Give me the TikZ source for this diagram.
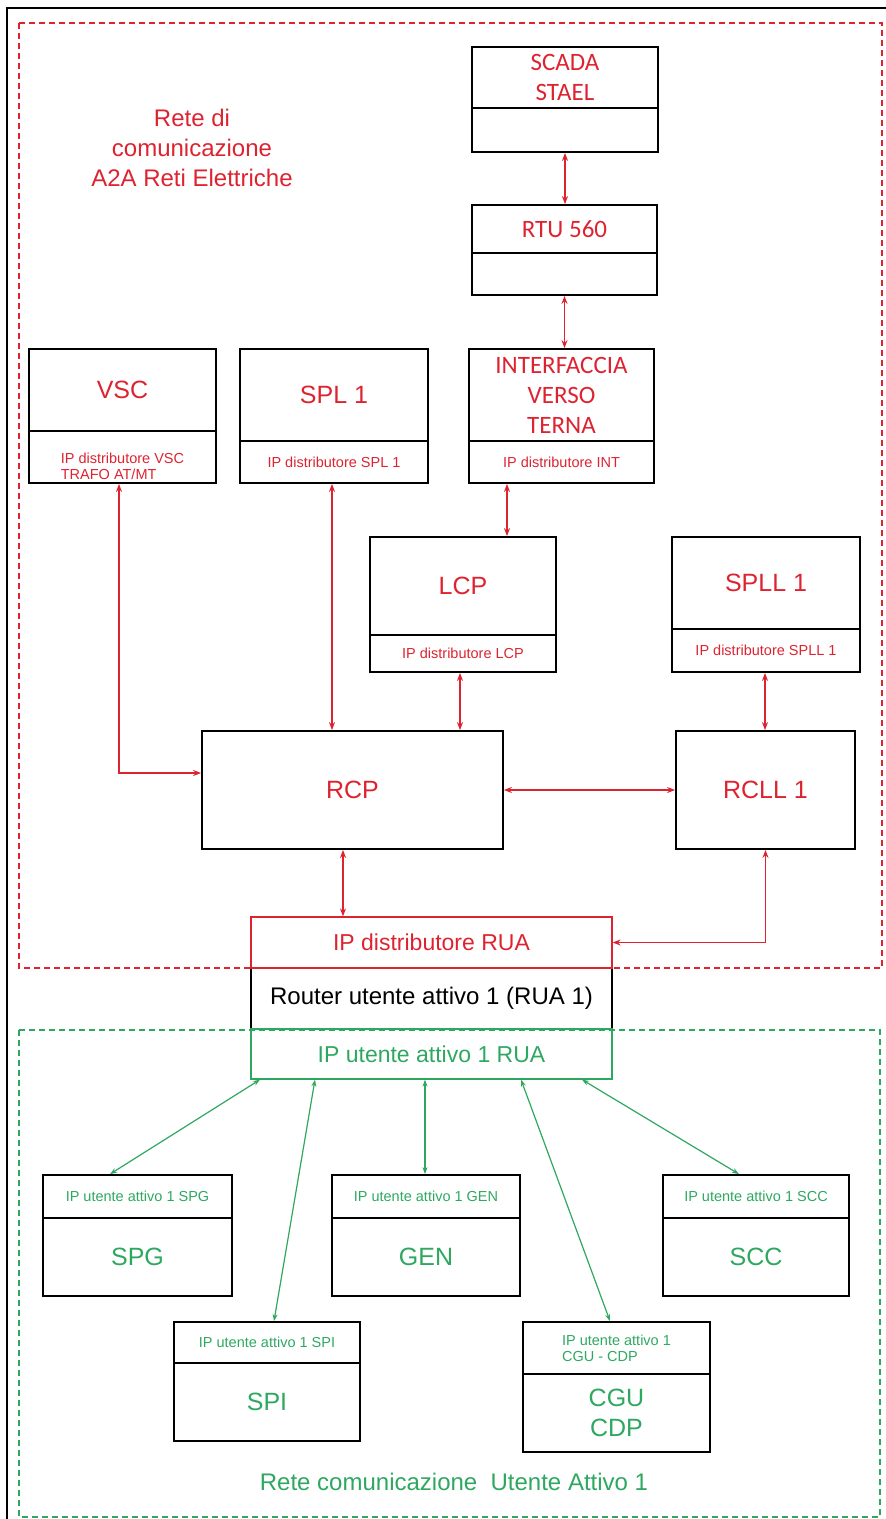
\documentclass[tikz,border=0pt]{standalone}
\usepackage{fontspec}
\setmainfont{Liberation Sans}
\newfontfamily\calfont{Carlito}
\usetikzlibrary{arrows.meta}
\definecolor{netred}{RGB}{222,35,48}
\definecolor{netgreen}{RGB}{46,168,96}
\tikzset{
  blk/.style={draw=black, line width=1.8pt, inner sep=0pt, align=center},
  bigtxt/.style={font=\fontsize{25}{30}\selectfont},
  calitxt/.style={font=\calfont\fontsize{25}{30}\selectfont},
  smalltxt/.style={font=\fontsize{14.5}{16}\selectfont},
  redlink/.style={draw=netred, line width=1.4pt, {Stealth[length=8pt,width=6pt]}-{Stealth[length=8pt,width=6pt]}},
  greenlink/.style={draw=netgreen, line width=1.2pt, {Stealth[length=7pt,width=5pt]}-{Stealth[length=7pt,width=5pt]}}
}
\begin{document}
\begin{tikzpicture}[x=1pt,y=-1pt]
  \useasboundingbox (0,0) rectangle (886,1519);
  \draw[line width=1.5pt] (7,1519) -- (7,8) -- (886,8);
  \draw[netred, line width=1.2pt, dash pattern=on 6pt off 4pt] (19,23) rectangle (882,968);
  \draw[netgreen, line width=1.2pt, dash pattern=on 6pt off 4pt] (19,1030) rectangle (880,1517);

  \node[bigtxt, text=netred, align=center, font=\fontsize{24}{30}\selectfont] (rednet) at (192,148) {Rete di\\comunicazione\\A2A Reti Elettriche};
  \node[bigtxt, text=netgreen, font=\fontsize{24}{30}\selectfont] (greennet) at (454,1482) {Rete comunicazione\ \ Utente Attivo 1};

  \node[blk, calitxt, text=netred, minimum width=186, minimum height=61] (scada) at (565,77.5) {SCADA\\STAEL};
  \node[blk, minimum width=186, minimum height=44] (scadaip) at (565,130) {};
  \node[blk, calitxt, text=netred, minimum width=185, minimum height=48] (rtu) at (564.5,229) {RTU 560};
  \node[blk, minimum width=185, minimum height=42] (rtuip) at (564.5,274) {};
  \node[blk, calitxt, text=netred, minimum width=185, minimum height=92] (int) at (561.5,395) {INTERFACCIA\\VERSO\\TERNA};
  \node[blk, smalltxt, text=netred, minimum width=185, minimum height=42] (intip) at (561.5,462) {IP distributore INT};
  \node[blk, bigtxt, text=netred, minimum width=187, minimum height=82] (vsc) at (122.5,390) {VSC};
  \node[blk, smalltxt, text=netred, align=left, minimum width=187, minimum height=52] (vscip) at (122.5,457) {\rule{0pt}{30pt}IP distributore VSC\\TRAFO AT/MT};
  \node[blk, bigtxt, text=netred, minimum width=188, minimum height=92] (spl) at (334,395) {SPL 1};
  \node[blk, smalltxt, text=netred, minimum width=188, minimum height=42] (splip) at (334,462) {IP distributore SPL 1};
  \node[blk, bigtxt, text=netred, minimum width=186, minimum height=98] (lcp) at (463,586) {LCP};
  \node[blk, smalltxt, text=netred, minimum width=186, minimum height=37] (lcpip) at (463,653.5) {IP distributore LCP};
  \node[blk, bigtxt, text=netred, minimum width=188, minimum height=92] (spll) at (766,583) {SPLL 1};
  \node[blk, smalltxt, text=netred, minimum width=188, minimum height=43] (spllip) at (766,650.5) {IP distributore SPLL 1};
  \node[blk, bigtxt, text=netred, minimum width=301, minimum height=118] (rcp) at (352.5,790) {RCP};
  \node[blk, bigtxt, text=netred, minimum width=179, minimum height=118] (rcll) at (765.5,790) {RCLL 1};

  \node[blk, line width=1.2pt, font=\fontsize{24}{30}\selectfont, minimum width=361, minimum height=61] (ruamid) at (431.5,998.5) {Router utente attivo 1 (RUA 1)};
  \node[blk, draw=netred, line width=1.2pt, font=\fontsize{23}{30}\selectfont, text=netred, minimum width=361, minimum height=51] (ruaip) at (431.5,942.5) {IP distributore RUA};
  \node[blk, draw=netgreen, line width=1.2pt, font=\fontsize{23}{30}\selectfont, text=netgreen, minimum width=361, minimum height=50] (ruauser) at (431.5,1054) {IP utente attivo 1 RUA};

  \node[blk, smalltxt, text=netgreen, minimum width=189, minimum height=43] (spgip) at (137.5,1196.5) {IP utente attivo 1 SPG};
  \node[blk, bigtxt, text=netgreen, minimum width=189, minimum height=78] (spg) at (137.5,1257) {SPG};
  \node[blk, smalltxt, text=netgreen, minimum width=188, minimum height=43] (genip) at (426,1196.5) {IP utente attivo 1 GEN};
  \node[blk, bigtxt, text=netgreen, minimum width=188, minimum height=78] (gen) at (426,1257) {GEN};
  \node[blk, smalltxt, text=netgreen, minimum width=186, minimum height=43] (sccip) at (756,1196.5) {IP utente attivo 1 SCC};
  \node[blk, bigtxt, text=netgreen, minimum width=186, minimum height=78] (scc) at (756,1257) {SCC};
  \node[blk, smalltxt, text=netgreen, minimum width=186, minimum height=41] (spiip) at (267,1342.5) {IP utente attivo 1 SPI};
  \node[blk, bigtxt, text=netgreen, minimum width=186, minimum height=78] (spi) at (267,1402) {SPI};
  \node[blk, smalltxt, text=netgreen, align=left, minimum width=187, minimum height=52] (cguip) at (616.5,1348) {IP utente attivo 1\\CGU - CDP};
  \node[blk, bigtxt, text=netgreen, minimum width=187, minimum height=78] (cgu) at (616.5,1413) {CGU\\CDP};

  \begin{scope}[redlink]
    \draw (scadaip.south) -- (scadaip.south |- rtu.north);
    \draw (rtuip.south) -- (rtuip.south |- int.north);
    \draw ([xshift=-54.5pt]intip.south) -- ([xshift=-54.5pt]intip.south |- lcp.north);
    \draw ([xshift=-3.5pt]vscip.south) |- ([yshift=17pt]rcp.west);
    \draw ([xshift=-2pt]splip.south) -- ([xshift=-2pt]splip.south |- rcp.north);
    \draw ([xshift=-3pt]lcpip.south) -- ([xshift=-3pt]lcpip.south |- rcp.north);
    \draw ([xshift=-1pt]spllip.south) -- ([xshift=-1pt]spllip.south |- rcll.north);
    \draw (rcp.east) -- (rcll.west);
    \draw ([xshift=-9.5pt]rcp.south) -- ([xshift=-9.5pt]rcp.south |- ruaip.north);
    \draw (rcll.south) |- (ruaip.east);
  \end{scope}
  \begin{scope}[greenlink]
    \draw ([xshift=-171.5pt]ruauser.south) -- ([xshift=-27.5pt]spgip.north);
    \draw ([xshift=-116.5pt]ruauser.south) -- ([xshift=7pt]spiip.north);
    \draw ([xshift=-6.5pt]ruauser.south) -- ([xshift=-6.5pt]ruauser.south |- genip.north);
    \draw ([xshift=89.5pt]ruauser.south) -- ([xshift=-6.5pt]cguip.north);
    \draw ([xshift=150.5pt]ruauser.south) -- ([xshift=-17pt]sccip.north);
  \end{scope}
\end{tikzpicture}
\end{document}
